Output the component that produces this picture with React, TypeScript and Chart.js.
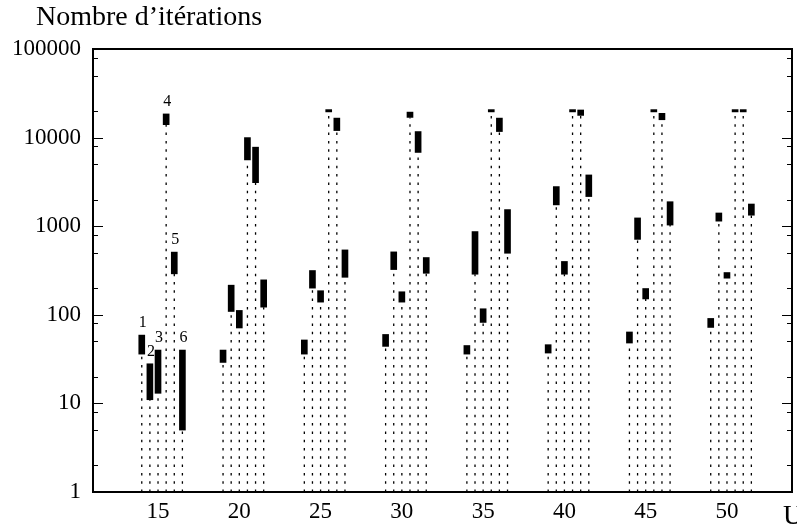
import React, { useEffect, useRef } from "react";
import { Chart, registerables } from "chart.js";

Chart.register(...registerables);

// ---- data ----
const uValues = [15, 20, 25, 30, 35, 40, 45, 50];
const seriesNames = ["1", "2", "3", "4", "5", "6"];
const seriesShift = [-1, -0.5, 0, 0.5, 1, 1.5];

const series1 = [[36, 59], [29, 40], [36, 52], [44, 60], [36, 45], [37, 46], [48, 64], [72, 91]];
const series2 = [[11, 28], [109, 216], [200, 316], [324, 513], [287, 870], [1740, 2800], [710, 1240], [1140, 1410]];
const series3 = [[13, 40], [71, 112], [139, 187], [139, 182], [82, 117], [287, 400], [151, 198], [259, 300]];
const series4 = [[14000, 18500], [5600, 10000], [19500, 20700], [16900, 19400], [19500, 20700], [19500, 20700], [19500, 20700], [19500, 20700]];
const series5 = [[290, 510], [3100, 7800], [12000, 16600], [6800, 11700], [11700, 16600], [17800, 20500], [15900, 18800], [19500, 20700]];
const series6 = [[5, 40], [122, 248], [265, 540], [294, 443], [495, 1540], [2160, 3790], [1030, 1890], [1330, 1780]];
const allSeries = [series1, series2, series3, series4, series5, series6];

const yTickLabels = [1, 10, 100, 1000, 10000, 100000];
const yMinorFactors = [2, 5, 8];
const xTickLabels = [15, 20, 25, 30, 35, 40, 45, 50];

const titleText = "Nombre d\u2019itérations";
const xAxisText = "U";

const FONT = "'Liberation Serif', 'Times New Roman', serif";

const framePlugin = {
  id: "frame",
  afterDraw(chart: any) {
    const { ctx, chartArea: a, scales } = chart;
    const y = scales.y;
    ctx.save();
    ctx.strokeStyle = "#000";
    ctx.lineWidth = 1;
    for (const d of yTickLabels) {
      for (const f of [1, ...yMinorFactors]) {
        const v = d * f;
        if (v > y.max || v < y.min) continue;
        const py = Math.round(y.getPixelForValue(v)) + 0.5;
        const len = f === 1 ? 10 : 5;
        ctx.beginPath();
        ctx.moveTo(a.left, py);
        ctx.lineTo(a.left + len, py);
        ctx.moveTo(a.right, py);
        ctx.lineTo(a.right - len, py);
        ctx.stroke();
      }
    }
    ctx.lineWidth = 2;
    ctx.strokeRect(a.left, a.top, a.right - a.left, a.bottom - a.top);

    // series numbers above first group
    ctx.fillStyle = "#000";
    ctx.font = `16px ${FONT}`;
    ctx.textAlign = "center";
    ctx.textBaseline = "alphabetic";
    chart.data.datasets.forEach((ds: any, i: number) => {
      if (ds.type !== "bar") return;
      const meta = chart.getDatasetMeta(i);
      const el = meta.data[0];
      if (!el) return;
      const top = Math.min(el.y, el.base);
      ctx.fillText(ds.label, el.x + 1, top - 8);
    });

    ctx.font = `28px ${FONT}`;
    ctx.textAlign = "left";
    ctx.fillText(titleText, 36, 25);
    ctx.fillText(xAxisText, 783, 524);
    ctx.restore();
  },
};

export default function App() {
  const ref = useRef<HTMLCanvasElement>(null);
  useEffect(() => {
    if (!ref.current) return;
    const barSets = allSeries.map((s, si) => ({
      type: "bar" as const,
      label: seriesNames[si],
      data: s.map((r, gi) => ({ x: uValues[gi] + seriesShift[si], y: [r[0], r[1]] })),
      backgroundColor: "#000",
      borderWidth: 0,
      barThickness: 6,
      grouped: false,
      order: 0,
    }));
    const lineSets = allSeries.map((s, si) => {
      const pts: any[] = [];
      s.forEach((r, gi) => {
        const x = uValues[gi] + seriesShift[si];
        pts.push({ x, y: yTickLabels[0] });
        pts.push({ x, y: r[0] });
        pts.push({ x, y: null });
      });
      return {
        type: "line" as const,
        label: "guide" + si,
        data: pts,
        borderColor: "#000",
        borderWidth: 1.3,
        borderDash: [2.5, 5.8],
        pointRadius: 0,
        spanGaps: false,
        fill: false,
        order: 1,
      };
    });
    const chart = new Chart(ref.current, {
      type: "bar",
      data: { datasets: [...lineSets, ...barSets] as any },
      options: {
        animation: false,
        responsive: false,
        maintainAspectRatio: false,
        layout: { padding: { top: 49, right: 5, left: 0, bottom: 0 } },
        plugins: { legend: { display: false }, tooltip: { enabled: false } },
        scales: {
          x: {
            type: "linear",
            min: 11,
            max: 54,
            offset: false,
            grid: { display: false, drawTicks: false },
            border: { display: false },
            afterBuildTicks: (sc: any) => {
              sc.ticks = xTickLabels.map((v) => ({ value: v }));
            },
            afterFit: (sc: any) => {
              sc.height = 37;
            },
            ticks: {
              autoSkip: false,
              maxRotation: 0,
              padding: 6,
              color: "#000",
              font: { family: FONT, size: 23 },
              callback: (v: any) => String(v),
            },
          },
          y: {
            type: "logarithmic",
            min: 1,
            max: 100000,
            grid: { display: false, drawTicks: false },
            border: { display: false },
            afterBuildTicks: (sc: any) => {
              sc.ticks = yTickLabels.map((v) => ({ value: v }));
            },
            afterFit: (sc: any) => {
              sc.width = 93;
            },
            ticks: {
              autoSkip: false,
              padding: 12,
              color: "#000",
              font: { family: FONT, size: 23 },
              callback: (v: any) => String(v),
            },
          },
        },
      },
      plugins: [framePlugin],
    });
    return () => chart.destroy();
  }, []);
  return (
    <div style={{ position: "fixed", left: 0, top: 0, width: 797, height: 529, background: "#fff" }}>
      <canvas ref={ref} width={797} height={529} style={{ width: 797, height: 529 }} />
    </div>
  );
}
